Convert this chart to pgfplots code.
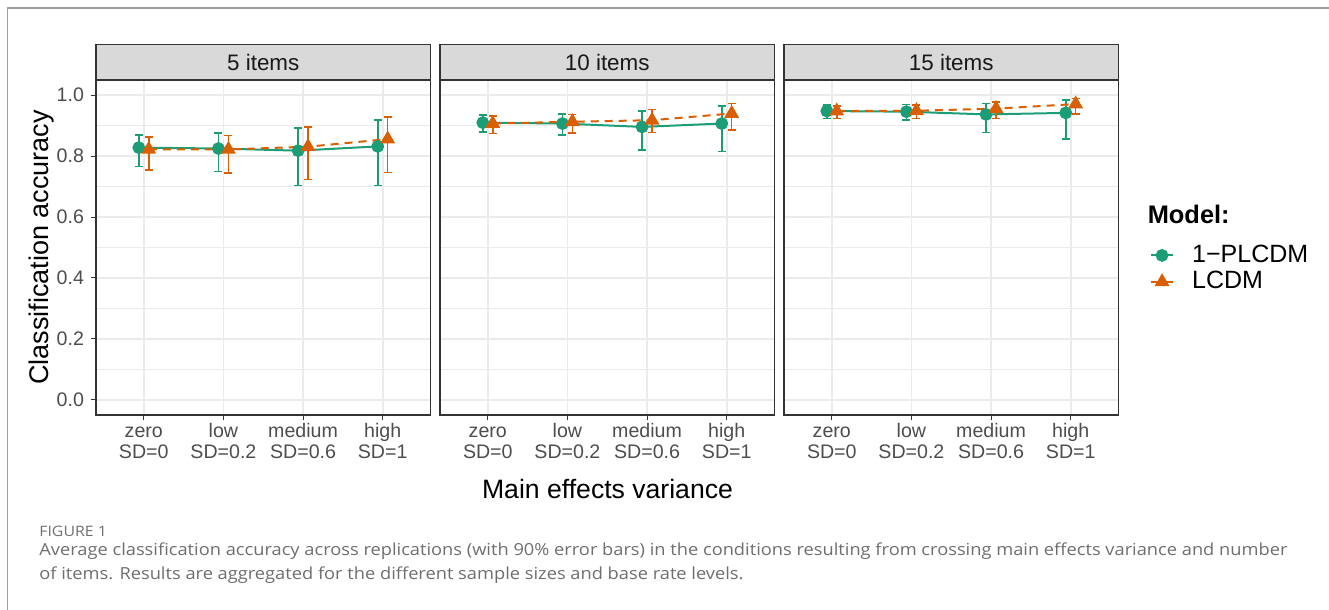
\documentclass[border=0pt]{standalone}
\usepackage{fontspec}
\setmainfont{Liberation Sans}
\newfontfamily\capfont[FakeStretch=1.1]{Open Sans}
\usepackage{pgfplots}
\pgfplotsset{compat=1.18}
\definecolor{cgreen}{HTML}{1B9E77}
\definecolor{corange}{HTML}{D95F02}
\definecolor{gridc}{HTML}{EBEBEB}
\definecolor{framec}{HTML}{333333}
\definecolor{stripc}{HTML}{D9D9D9}
\definecolor{ticktext}{HTML}{4D4D4D}
\definecolor{captext}{HTML}{6E6E6E}

\pgfplotsset{
  panel/.style={
    scale only axis, width=167.25pt, height=167.5pt,
    xmin=0.4, xmax=4.6, ymin=-0.05, ymax=1.05,
    xtick={1,2,3,4},
    xticklabels={\strut zero\\\strut SD=0, \strut low\\\strut SD=0.2, \strut medium\\\strut SD=0.6, \strut high\\\strut SD=1},
    xticklabel style={align=center, font=\fontsize{9.8}{10.5}\selectfont, text=ticktext, inner sep=1pt},
    ytick={0,0.2,0.4,0.6,0.8,1},
    yticklabels={0.0,0.2,0.4,0.6,0.8,1.0},
    yticklabel style={font=\fontsize{9.8}{10.5}\selectfont, text=ticktext},
    minor ytick={0.1,0.3,0.5,0.7,0.9},
    grid=both,
    major grid style={gridc, line width=0.8pt},
    minor grid style={gridc, line width=0.4pt},
    tick align=outside, major tick length=2.5pt, minor tick length=0pt,
    xtick pos=bottom, ytick pos=left,
    tick style={framec, line width=0.5pt},
    axis line style={framec, line width=0.6pt},
    legend image code/.code={\draw[mark repeat=2,mark phase=2] plot coordinates {(0pt,0pt)(5.6pt,0pt)(11.2pt,0pt)};},
  },
  gline/.style={cgreen, line width=1pt, mark=*, mark size=2.7pt, mark options={solid},
    error bars/.cd, y dir=both, y explicit,
    error bar style={line width=0.8pt, solid},
    error mark options={rotate=90, line width=0.8pt, mark size=2pt}},
  oline/.style={corange, line width=1pt, dash pattern=on 4pt off 3pt, mark=triangle*, mark size=3.3pt, mark options={solid},
    error bars/.cd, y dir=both, y explicit,
    error bar style={line width=0.8pt, solid},
    error mark options={rotate=90, line width=0.8pt, mark size=2pt, solid}},
  noy/.style={yticklabels={}, ytick style={draw=none}},
}

\begin{document}
\begin{tikzpicture}
\useasboundingbox (0pt,0pt) rectangle (664.5pt,-305pt);
\draw[color=gray!75, line width=0.6pt] (3.6pt,-310pt) -- (3.6pt,-4pt) -- (670pt,-4pt);

% Panel 1: 5 items
\begin{axis}[panel, name=p1, at={(48pt,-207.5pt)}, anchor=south west]
\addplot[gline] coordinates {
 (0.9375,0.828) += (0,0.041) -= (0,0.062)
 (1.9375,0.825) += (0,0.050) -= (0,0.076)
 (2.9375,0.818) += (0,0.075) -= (0,0.115)
 (3.9375,0.832) += (0,0.086) -= (0,0.129)
};
\addplot[oline] coordinates {
 (1.0625,0.822) += (0,0.041) -= (0,0.067)
 (2.0625,0.822) += (0,0.046) -= (0,0.078)
 (3.0625,0.831) += (0,0.065) -= (0,0.108)
 (4.0625,0.856) += (0,0.073) -= (0,0.110)
};
\end{axis}

% Panel 2: 10 items
\begin{axis}[panel, noy, name=p2, at={(220pt,-207.5pt)}, anchor=south west]
\addplot[gline] coordinates {
 (0.9375,0.910) += (0,0.026) -= (0,0.030)
 (1.9375,0.907) += (0,0.032) -= (0,0.038)
 (2.9375,0.896) += (0,0.052) -= (0,0.076)
 (3.9375,0.907) += (0,0.057) -= (0,0.092)
};
\addplot[oline] coordinates {
 (1.0625,0.907) += (0,0.025) -= (0,0.033)
 (2.0625,0.913) += (0,0.024) -= (0,0.038)
 (3.0625,0.918) += (0,0.035) -= (0,0.040)
 (4.0625,0.940) += (0,0.033) -= (0,0.054)
};
\end{axis}

% Panel 3: 15 items
\begin{axis}[panel, noy, name=p3, at={(392pt,-207.5pt)}, anchor=south west,
  legend style={at={(1.0925,0.437)}, anchor=west, draw=none, fill=none, inner sep=0pt,
    font=\fontsize{12.5}{14}\selectfont, row sep=2pt,
    nodes={inner sep=0pt, text height=9pt, text depth=2.2pt},
    /tikz/every odd column/.append style={column sep=9pt}},
  legend cell align=left]
\addplot[gline] coordinates {
 (0.9375,0.948) += (0,0.020) -= (0,0.024)
 (1.9375,0.946) += (0,0.023) -= (0,0.027)
 (2.9375,0.937) += (0,0.036) -= (0,0.060)
 (3.9375,0.942) += (0,0.042) -= (0,0.086)
};
\addlegendentry{1\textminus PLCDM}
\addplot[oline] coordinates {
 (1.0625,0.948) += (0,0.017) -= (0,0.024)
 (2.0625,0.949) += (0,0.019) -= (0,0.025)
 (3.0625,0.956) += (0,0.022) -= (0,0.032)
 (4.0625,0.971) += (0,0.018) -= (0,0.033)
};
\addlegendentry{LCDM}
\end{axis}

% strips
\foreach \p/\t in {p1/5 items, p2/10 items, p3/15 items}{
  \draw[framec, line width=0.6pt, fill=stripc] (\p.north west) rectangle ([yshift=17.85pt]\p.north east);
  \node[font=\fontsize{11.2}{13}\selectfont, text=black!90] at ([yshift=8.9pt]\p.north) {\t};
}

% axis titles
\node[rotate=90, font=\fontsize{13.5}{16}\selectfont] at (21pt,-123.75pt) {Classification accuracy};
\node[anchor=base, font=\fontsize{13.3}{16}\selectfont] at (303.75pt,-249pt) {Main effects variance};

% legend title
\node[anchor=base west, inner sep=0pt, font=\bfseries\fontsize{12.7}{15}\selectfont] at (573.7pt,-111.5pt) {Model:};

% caption
\node[anchor=base west, inner sep=0pt, text=captext, font=\capfont\fontsize{7.2}{8}\selectfont] at (19.5pt,-268pt) {FIGURE 1};
\node[anchor=base west, inner sep=0pt, text=captext, font=\capfont\fontsize{8.3}{9}\selectfont] at (19.5pt,-277.5pt) {Average classification accuracy across replications (with 90\% error bars) in the conditions resulting from crossing main effects variance and number};
\node[anchor=base west, inner sep=0pt, text=captext, font=\capfont\fontsize{8.3}{9}\selectfont] at (19.5pt,-289.6pt) {of items. Results are aggregated for the different sample sizes and base rate levels.};
\end{tikzpicture}
\end{document}
